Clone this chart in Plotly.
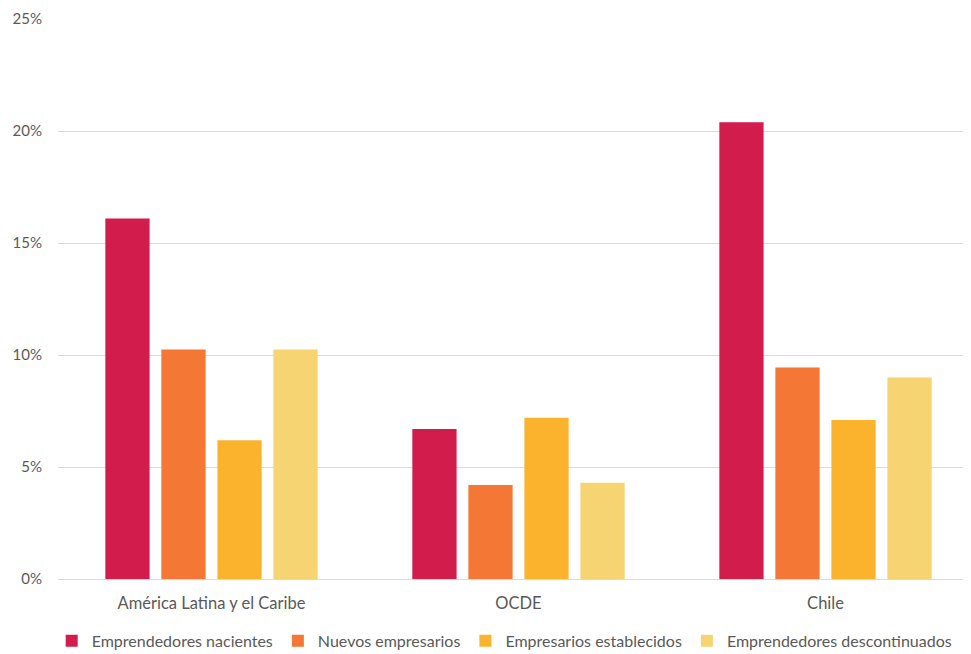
import plotly.graph_objects as go

categories = ["América Latina y el Caribe", "OCDE", "Chile"]
series_names = ["Emprendedores nacientes", "Nuevos empresarios", "Empresarios establecidos", "Emprendedores descontinuados"]
nacientes = [0.161, 0.067, 0.204]
nuevos = [0.1025, 0.042, 0.0945]
establecidos = [0.062, 0.072, 0.071]
descontinuados = [0.1025, 0.043, 0.090]
colors = ["#D21C4B", "#F47735", "#FBB32E", "#F5D471"]
tick_vals = [0, 0.05, 0.10, 0.15, 0.20, 0.25]
tick_text = ["0%", "5%", "10%", "15%", "20%", "25%"]

fig = go.Figure()
for name, vals, c in zip(series_names, [nacientes, nuevos, establecidos, descontinuados], colors):
    fig.add_trace(go.Bar(x=categories, y=vals, name=name, marker=dict(color=c, line=dict(width=0))))

font = dict(family="Lato, Open Sans, sans-serif", size=16, color="#595959")
xfont = dict(family="Lato, Open Sans, sans-serif", size=16.5, color="#595959")
yfont = dict(family="Lato, Open Sans, sans-serif", size=15, color="#595959")
fig.update_layout(
    width=971, height=654,
    barmode="group", bargap=0.27, bargroupgap=0.21,
    plot_bgcolor="white", paper_bgcolor="white",
    font=font,
    margin=dict(l=50, r=0, t=11, b=83, autoexpand=False),
    xaxis=dict(showgrid=False, showline=True, linecolor="#D9D9D9", linewidth=1, ticks="",
               tickfont=xfont, ticklabelstandoff=9),
    yaxis=dict(range=[0, 0.2501], tickvals=tick_vals, ticktext=tick_text, showgrid=True,
               gridcolor="#D9D9D9", gridwidth=1, zeroline=False, ticks="", tickfont=yfont,
               ticklabelstandoff=15, ticklabeloverflow="allow"),
    legend=dict(orientation="h", x=0.485, xanchor="center", y=-0.08, yanchor="top", font=font,
                itemwidth=30, tracegroupgap=0),
    showlegend=True,
)
fig.write_html("out.html")
